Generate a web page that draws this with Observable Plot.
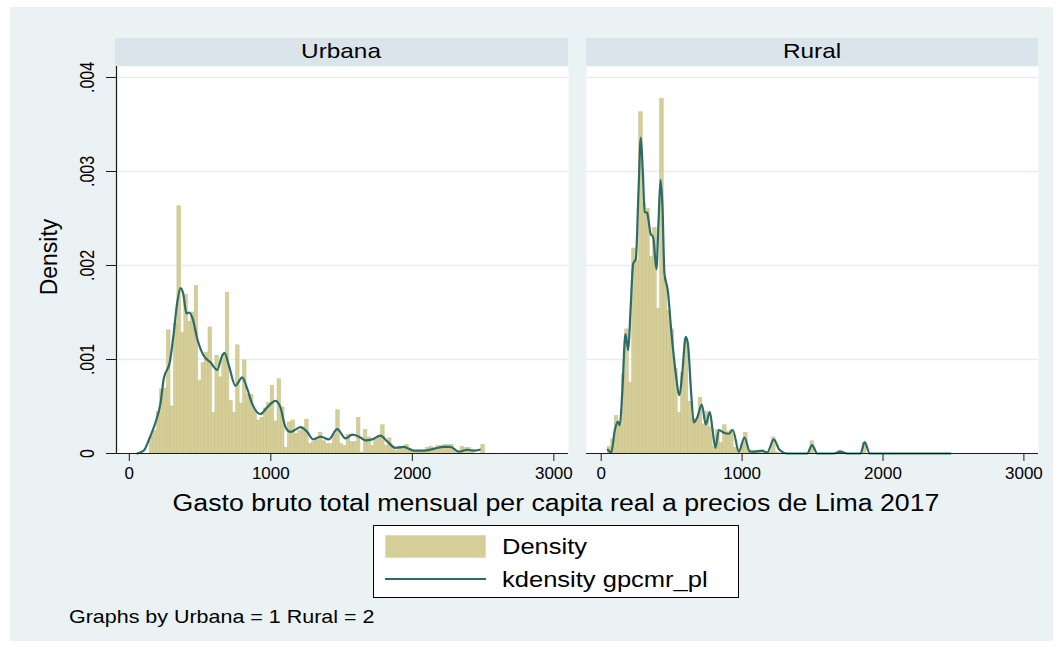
<!DOCTYPE html>
<html><head><meta charset="utf-8">
<script src="https://cdn.jsdelivr.net/npm/d3@7"></script>
<script src="https://cdn.jsdelivr.net/npm/@observablehq/plot@0.6"></script>
<style>
body{margin:0;background:#fff;}
#page{position:relative;width:1063px;height:648px;overflow:hidden;background:#fff;font-family:"Liberation Sans",Arial,sans-serif;color:#000;}
#bg{position:absolute;left:10px;top:7px;width:1043px;height:634px;background:#eaf2f3;}
.strip{position:absolute;top:38px;height:28px;background:#d9e5ea;}
.ctext{position:absolute;white-space:nowrap;transform:translate(-50%,-50%) scaleX(1.16);}
.ltext{position:absolute;white-space:nowrap;transform-origin:0 50%;transform:translateY(-50%) scaleX(1.16);}
.panel{position:absolute;top:30px;}
</style>
</head><body>
<div id="page">
  <div id="bg"></div>
  <div class="strip" style="left:115px;width:453px;"></div>
  <div class="strip" style="left:586px;width:452px;"></div>
  <div class="ctext" id="t1" style="left:341px;top:51px;font-size:21px;"></div>
  <div class="ctext" id="t2" style="left:812px;top:51px;font-size:21px;"></div>
  <div id="p1" class="panel" style="left:0px;"></div>
  <div id="p2" class="panel" style="left:570px;"></div>
  <div class="ctext" id="ytitle" style="left:49px;top:257px;font-size:23px;transform:translate(-50%,-50%) rotate(-90deg);"></div>
  <div class="ctext" id="xtitle" style="left:556px;top:503px;font-size:23px;"></div>
  <div style="position:absolute;left:373px;top:525px;width:364px;height:71px;background:#fff;border:1px solid #000;"></div>
  <div style="position:absolute;left:385px;top:535px;width:99px;height:21px;background:#d5ce98;border:1px solid #e2dcb4;"></div>
  <div style="position:absolute;left:385px;top:578px;width:101px;height:2px;background:#2c6c66;"></div>
  <div class="ltext" id="leg1" style="left:502px;top:547px;font-size:22px;"></div>
  <div class="ltext" id="leg2" style="left:502px;top:580px;font-size:22px;"></div>
  <div class="ltext" id="note" style="left:69px;top:617px;font-size:18.5px;"></div>
</div>
<script>
// ---- texts ----
const panelTitles = ["Urbana", "Rural"];
const yTitle = "Density";
const xTitle = "Gasto bruto total mensual per capita real a precios de Lima 2017";
const legendLabels = ["Density", "kdensity gpcmr_pl"];
const noteText = "Graphs by Urbana = 1 Rural = 2";

// ---- axis ticks ----
const xTicks = [0, 1000, 2000, 3000];
const yTicks = [0, 0.001, 0.002, 0.003, 0.004];
const yGrid = [0.001, 0.002, 0.003, 0.004];

// ---- histogram bins (density per bin) ----
const urbanaBinStart = 145;
const urbanaBinWidth = 24.4;
const urbanaDensity = [
  0.00018,0.00024,0.00044,0.00068,0.00069,0.00131,0.0005,0.00138,0.00263,0.00128,
  0.00169,0.0014,0.0015,0.00178,0.00077,0.00096,0.00107,0.00134,0.00043,0.00104,
  0.00081,0.00105,0.00171,0.00056,0.00043,0.00115,0.00053,0.00099,0.00062,0.00062,
  0.00046,0.00035,0.00038,0.00048,0.00054,0.00072,0.00034,0.00079,0.00049,0.00006,
  0.00033,0.00035,0.00021,0.00024,0.00027,0.00036,0.0001,0.00012,0.00014,0.00022,
  0.00013,0.0001,0.0001,0.0002,0.00046,0.0001,0.00008,0.0002,0.00012,0.00012,
  0.00038,0.00001,0.00025,0.00017,0.00008,0.00015,0.00019,0.0003,0.00008,0.00016,
  0.00007,0.00003,0.00007,0.00007,0.00009,0.00005,0.00003,0.00003,0.00002,0.00003,
  0.00006,0.00007,0.00006,0.00008,0.00008,0.00009,0.00009,0.00009,0.00003,0.00002,
  0.00007,0.00006,0.00006,0.00004,0,0,0.00009
];
const ruralBinStart = 46.8;
const ruralBinWidth = 24.8;
const ruralDensity = [
  0.00007,0.00015,0.0004,0.0003,0.00084,0.00132,0.00075,0.00218,0.00205,0.00363,
  0.00266,0.0026,0.00209,0.0024,0.00154,0.00377,0.00186,0.00152,0.00132,0.0009,
  0.00043,0.00086,0.00122,0.00055,0.00037,0.00035,0.00059,0.00031,0.00044,0.00028,
  0.00007,0.00025,0.00011,0.0003,0.00023,0.00025,0.00006,0.00004,0.00009,0.00022,
  0.00004,0.00002,0.00003,0.00003,0.00002,0.00001,0.00002,0.00017,0.00001,0,
  0,0,0,0,0,0,0,0,0.00013,0,
  0,0,0,0,0,0,0.00003,0,0,0,
  0,0,0,0.00011
];

// ---- kernel density curves ----
const urbanaKdeX = [56,102,145,185,220,244,286,314,338,362,381,404,423,444,484,526,574,621,656,673,703,750,798,833,868,927,974,1033,1068,1104,1139,1210,1257,1299,1351,1410,1469,1528,1575,1634,1669,1716,1775,1822,1881,1940,2010,2081,2152,2222,2270,2328,2388,2434,2477];
const urbanaKdeY = [0,0.00003,0.00017,0.00033,0.00053,0.0008,0.00097,0.00128,0.0016,0.00176,0.0017,0.00149,0.0015,0.00145,0.0012,0.00104,0.00097,0.00089,0.00104,0.00107,0.00094,0.00072,0.00081,0.00069,0.00053,0.00042,0.00049,0.00056,0.00049,0.00028,0.00023,0.00028,0.00023,0.00015,0.00018,0.00015,0.00026,0.00016,0.0002,0.00017,0.00014,0.00015,0.00019,0.00013,0.00006,0.00007,0.00003,0.00003,0.00005,0.00007,0.00007,0.00002,0.00004,0.00003,0.00004];
const ruralKdeX = [47,71,97,118,132,149,172,192,208,227,246,265,281,295,309,326,336,350,369,392,407,421,435,449,473,497,527,556,575,600,615,639,657,681,714,742,771,788,811,835,870,906,934,977,1017,1055,1095,1143,1178,1225,1265,1320,1462,1497,1533,1651,1698,1746,1840,1870,1906,2479];
const ruralKdeY = [0.00004,0.00001,0.00025,0.00034,0.0003,0.00063,0.00127,0.0011,0.00152,0.00202,0.00207,0.0028,0.00336,0.00301,0.00257,0.00256,0.00248,0.00234,0.0023,0.00196,0.00248,0.00291,0.00262,0.00191,0.00173,0.00131,0.00088,0.00062,0.00085,0.00124,0.00117,0.00063,0.00033,0.00038,0.00052,0.00031,0.00044,0.00028,0.00006,0.00025,0.00022,0.00021,0.00025,0.00002,0.00017,0.00002,0.00002,0.00003,0.00001,0.00015,0.00004,0,0,0.00009,0,0,0.00002,0,0,0.00012,0,0];

// ---- build ----
const BAR_FILL = "#d5ce98", BAR_STROKE = "#c9c288", LINE = "#2c6c66", AXIS = "#1a1a1a", GRID = "#e6eef0";
const FONT = "Liberation Sans, Arial, sans-serif";
const fmtY = d => d === 0 ? "0" : d3.format(".3f")(d).replace(/^0/, "");

function bins(start, w, dens) {
  return dens.map((d, i) => ({x1: start + i * w, x2: start + (i + 1) * w, d})).filter(b => b.d > 0);
}
function kde(xs, ys) { return xs.map((x, i) => ({x, y: ys[i]})); }

function panel({data, curve, xDomain, width, ml, mr, showY}) {
  const marks = [
    Plot.frame({fill: "white", stroke: "none"}),
    Plot.ruleY(yGrid, {stroke: GRID, strokeWidth: 1.5}),
    Plot.rectY(data, {x1: "x1", x2: "x2", y: "d", fill: BAR_FILL, stroke: BAR_STROKE, strokeWidth: 0.6}),
    Plot.line(curve, {x: "x", y: "y", stroke: LINE, strokeWidth: 2.2, curve: "monotone-x"}),
    Plot.ruleY([0], {stroke: AXIS, strokeWidth: 1.2}),
    Plot.axisX({ticks: xTicks, tickSize: 8, tickPadding: 5, tickFormat: d => String(d), label: null, stroke: AXIS, fill: "#000"})
  ];
  if (showY) {
    marks.push(Plot.ruleX([xDomain[0]], {stroke: AXIS, strokeWidth: 1.2}));
    marks.push(Plot.axisY({ticks: yTicks, tickSize: 10, tickFormat: () => "", label: null, stroke: AXIS}));
    marks.push(Plot.text(yTicks, {y: d => d, text: fmtY, frameAnchor: "left", dx: -28.5, rotate: -90, textAnchor: "middle", fill: "#000"}));
  }
  return Plot.plot({
    width, height: 470,
    marginTop: 36, marginBottom: 47, marginLeft: ml, marginRight: mr,
    x: {domain: xDomain, axis: null},
    y: {domain: [0, 0.004117], axis: null},
    style: {background: "transparent", overflow: "visible", fontFamily: FONT, fontSize: "17px", color: "#000"},
    marks
  });
}

const p1 = panel({
  data: bins(urbanaBinStart, urbanaBinWidth, urbanaDensity),
  curve: kde(urbanaKdeX, urbanaKdeY),
  xDomain: [-90.4, 3103.5], width: 580, ml: 116, mr: 12, showY: true
});
const p2 = panel({
  data: bins(ruralBinStart, ruralBinWidth, ruralDensity),
  curve: kde(ruralKdeX, ruralKdeY),
  xDomain: [-104.3, 3103.6], width: 480, ml: 16, mr: 12, showY: false
});
document.getElementById("p1").appendChild(p1);
document.getElementById("p2").appendChild(p2);

// enforce text sizes and stretch the rotated y tick labels horizontally
for (const svg of [p1, p2]) {
  svg.querySelectorAll("text").forEach(t => {
    const tr = t.getAttribute("transform") || "";
    if (tr.includes("rotate")) {
      t.style.fontSize = "16px";
      t.setAttribute("transform", tr.replace("rotate", "scale(1.25,1) rotate"));
    } else {
      t.style.fontSize = "17px";
    }
  });
}

document.getElementById("t1").textContent = panelTitles[0];
document.getElementById("t2").textContent = panelTitles[1];
document.getElementById("ytitle").textContent = yTitle;
document.getElementById("xtitle").textContent = xTitle;
document.getElementById("leg1").textContent = legendLabels[0];
document.getElementById("leg2").textContent = legendLabels[1];
document.getElementById("note").textContent = noteText;
</script>
</body></html>
